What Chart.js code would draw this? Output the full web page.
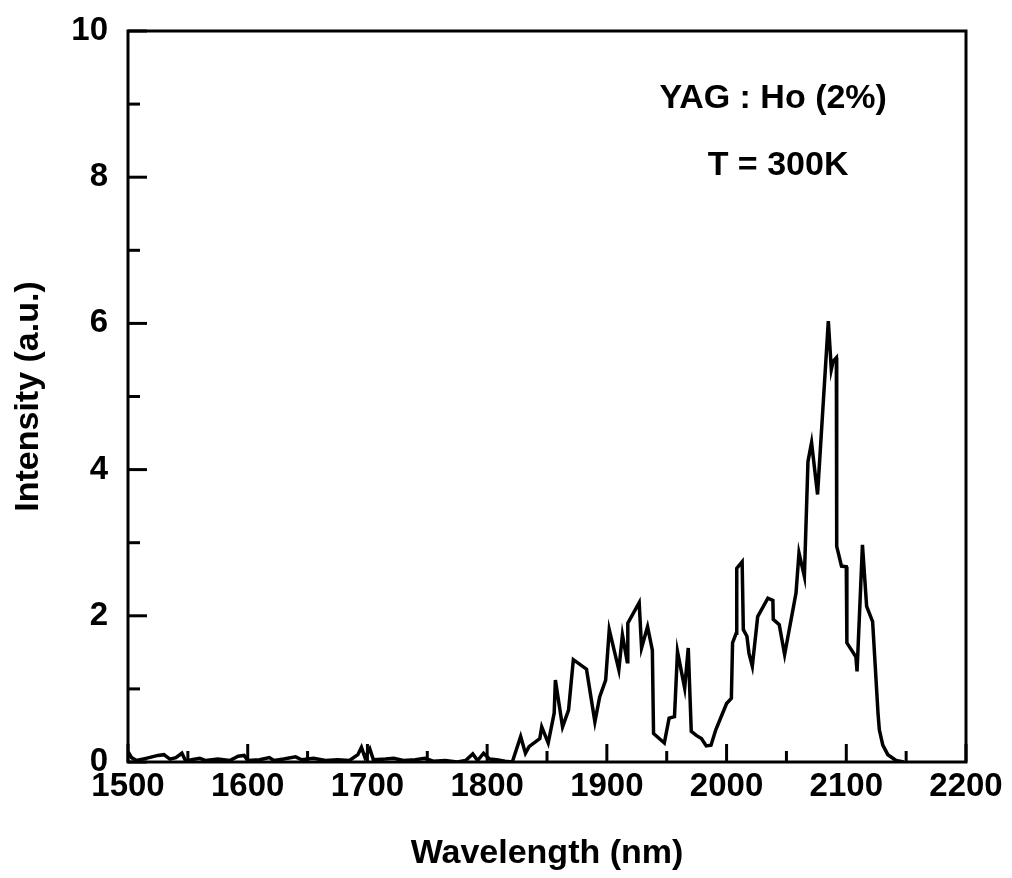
<!DOCTYPE html>
<html>
<head>
<meta charset="utf-8">
<script src="https://cdn.jsdelivr.net/npm/chart.js@4/dist/chart.umd.min.js"></script>
<style>
  html, body { margin: 0; padding: 0; background: #fff; }
  #wrap { width: 1012px; height: 878px; }
</style>
</head>
<body>
<div id="wrap"><canvas id="c" width="1012" height="878"></canvas></div>
<script>
// ---- data ----
const wavelengths = [
  1500, 1503, 1507, 1515, 1525, 1530, 1535, 1540, 1545, 1548, 1553, 1560, 1565, 1575, 1585, 1592, 1597, 1600,
  1610, 1618, 1622, 1630, 1640, 1645, 1655, 1665, 1675, 1685, 1692, 1695, 1698, 1702, 1705, 1715, 1722, 1730,
  1740, 1748, 1755, 1765, 1775, 1782, 1788, 1792, 1797, 1802, 1808, 1815, 1821,
  1828, 1832, 1835, 1844, 1845.6, 1851, 1856, 1857, 1863, 1868, 1872, 1883, 1890, 1894, 1899, 1902, 1910,
  1913, 1917, 1917.5, 1927, 1929, 1934, 1938, 1939, 1948, 1952, 1956.5, 1959, 1965, 1968, 1970.5, 1975, 1979,
  1983, 1987, 1991, 2000, 2004, 2005, 2008, 2008.5, 2013, 2014, 2017, 2018.7, 2021.5, 2026, 2034.5, 2038.7,
  2039, 2044, 2048.5, 2058, 2060.5, 2065, 2068, 2071, 2076, 2085, 2087.5, 2089, 2091.7, 2092, 2096, 2100,
  2100.5, 2108, 2109, 2113.5, 2117, 2122, 2126.5, 2127.6, 2130.5, 2134.7, 2141.6, 2148
];
const intensities = [
  0.14, 0.06, 0.02, 0.05, 0.09, 0.10, 0.04, 0.06, 0.12, 0.02, 0.03, 0.05, 0.02, 0.04, 0.02, 0.08, 0.09, 0.02,
  0.03, 0.06, 0.02, 0.04, 0.07, 0.03, 0.05, 0.02, 0.03, 0.02, 0.10, 0.20, 0.06, 0.18, 0.03, 0.04, 0.05, 0.02,
  0.03, 0.05, 0.01, 0.02, 0.00, 0.02, 0.11, 0.02, 0.12, 0.04, 0.03, 0.01, 0.00,
  0.35, 0.12, 0.21, 0.32, 0.48, 0.26, 0.67, 1.12, 0.48, 0.71, 1.40, 1.27, 0.55, 0.89, 1.12, 1.81, 1.26,
  1.74, 1.37, 1.90, 2.18, 1.56, 1.85, 1.53, 0.39, 0.26, 0.60, 0.62, 1.51, 1.01, 1.56, 0.42, 0.36, 0.32,
  0.22, 0.23, 0.44, 0.80, 0.87, 1.63, 1.76, 2.65, 2.74, 1.81, 1.72, 1.49, 1.31, 1.99, 2.24, 2.21,
  1.95, 1.88, 1.47, 2.31, 2.86, 2.54, 4.11, 4.37, 3.66, 6.03, 5.37, 5.48, 5.53, 2.95, 2.68, 2.67,
  1.63, 1.44, 1.24, 2.97, 2.13, 1.92, 0.67, 0.44, 0.23, 0.10, 0.02, 0.00
];
const xTickLabels = [1500, 1600, 1700, 1800, 1900, 2000, 2100, 2200];
const yTickLabels = [0, 2, 4, 6, 8, 10];
const sampleLabel = 'YAG : Ho (2%)';
const tempLabel = 'T = 300K';
const xTitle = 'Wavelength (nm)';
const yTitle = 'Intensity (a.u.)';

const FONT = '"Liberation Sans", Arial, Helvetica, sans-serif';

const points = wavelengths.map((w, i) => ({ x: w, y: intensities[i] }));

const frameTicks = {
  id: 'frameTicks',
  afterDraw(chart) {
    const { ctx, chartArea: a, scales: { x, y } } = chart;
    ctx.save();
    ctx.strokeStyle = '#000';
    ctx.lineWidth = 3;
    ctx.lineCap = 'square';
    ctx.strokeRect(a.left, a.top, a.right - a.left, a.bottom - a.top);
    ctx.lineCap = 'butt';
    for (const t of x.ticks) {
      const px = x.getPixelForValue(t.value);
      const len = xTickLabels.includes(t.value) ? 18 : 11;
      ctx.beginPath(); ctx.moveTo(px, a.bottom); ctx.lineTo(px, a.bottom - len); ctx.stroke();
    }
    for (const t of y.ticks) {
      const py = y.getPixelForValue(t.value);
      const len = yTickLabels.includes(t.value) ? 19 : 12;
      ctx.beginPath(); ctx.moveTo(a.left, py); ctx.lineTo(a.left + len, py); ctx.stroke();
    }
    // annotation text placed in data coordinates
    ctx.fillStyle = '#000';
    ctx.font = 'bold 34px ' + FONT;
    ctx.textAlign = 'center';
    ctx.textBaseline = 'middle';
    ctx.fillText(sampleLabel, x.getPixelForValue(2039), y.getPixelForValue(9.07));
    ctx.fillText(tempLabel, x.getPixelForValue(2043), y.getPixelForValue(8.16));
    ctx.restore();
  }
};

new Chart(document.getElementById('c'), {
  type: 'scatter',
  data: {
    datasets: [{
      data: points,
      showLine: true,
      borderColor: '#000',
      borderWidth: 3.5,
      pointRadius: 0,
      fill: false,
      tension: 0
    }]
  },
  options: {
    responsive: false,
    animation: false,
    devicePixelRatio: 1,
    layout: { padding: { top: 31, right: 46, bottom: 0, left: 0 } },
    plugins: { legend: { display: false }, tooltip: { enabled: false } },
    scales: {
      x: {
        type: 'linear',
        min: 1500, max: 2200,
        afterFit(s) { s.height = 116; s.paddingLeft = 0; s.paddingRight = 0; },
        border: { display: false },
        grid: { display: false, drawTicks: false },
        ticks: {
          stepSize: 50,
          autoSkip: false,
          maxRotation: 0,
          padding: 5,
          color: '#000',
          font: { family: FONT, size: 33, weight: 'bold' },
          callback: v => xTickLabels.includes(v) ? String(v) : ''
        },
        title: {
          display: true, text: xTitle, color: '#000',
          font: { family: FONT, size: 34, weight: 'bold' },
          padding: { top: 0, bottom: 4 }
        }
      },
      y: {
        type: 'linear',
        min: 0, max: 10,
        afterFit(s) { s.width = 128; s.paddingTop = 0; s.paddingBottom = 0; },
        border: { display: false },
        grid: { display: false, drawTicks: false },
        ticks: {
          stepSize: 1,
          autoSkip: false,
          padding: 20,
          color: '#000',
          font: { family: FONT, size: 33, weight: 'bold' },
          callback: v => yTickLabels.includes(v) ? String(v) : ''
        },
        title: {
          display: true, text: yTitle, color: '#000',
          font: { family: FONT, size: 34, weight: 'bold' },
          padding: { top: 8, bottom: 0 }
        }
      }
    }
  },
  plugins: [frameTicks]
});
</script>
</body>
</html>
